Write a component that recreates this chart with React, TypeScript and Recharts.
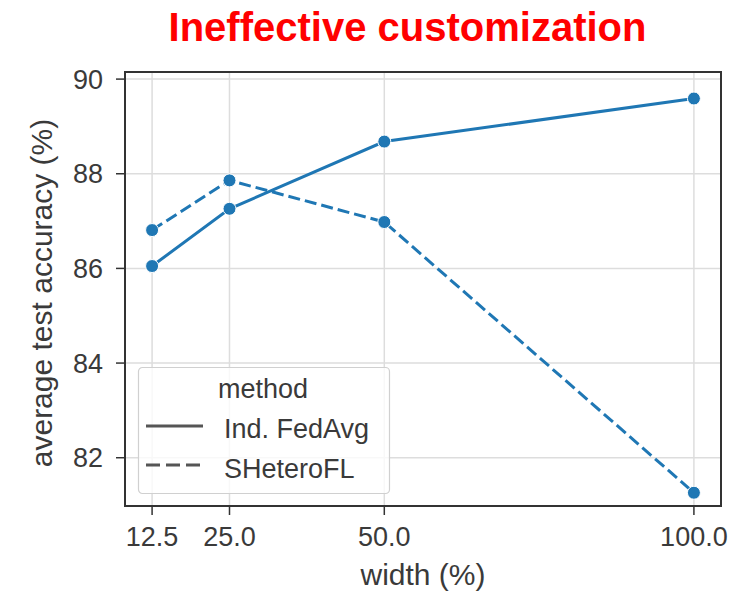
import React from "react";
import { LineChart, Line, XAxis, YAxis, CartesianGrid, Legend, ReferenceArea } from "recharts";

const widths = [12.5, 25, 50, 100];
const fedAvg = [86.05, 87.26, 88.68, 89.59];
const sHeteroFL = [86.81, 87.86, 86.98, 81.26];
const xTicks = [12.5, 25, 50, 100];
const yTicks = [82, 84, 86, 88, 90];
const seriesNames = ["Ind. FedAvg", "SHeteroFL"];
const xDomain = [8.125, 104.375];
const yDomain = [80.98, 90.15];

const data = widths.map((w, i) => ({ width: w, fedavg: fedAvg[i], sheterofl: sHeteroFL[i] }));

const FONT = "'Liberation Sans', Arial, sans-serif";
const BLUE = "#1f77b4";
const AXIS = "#333333";
const TXT = "#3a3a3a";

const renderLegend = () => (
  <svg width={252} height={127} style={{ display: "block", overflow: "visible" }}>
    <rect x={0.5} y={0.5} width={251} height={126} rx={4} ry={4} fill="rgba(255,255,255,0.8)" stroke="#d0d0d0" strokeWidth={1.2} />
    <text x={125} y={31} textAnchor="middle" fontSize={27} fill={TXT} fontFamily={FONT}>method</text>
    <line x1={8} x2={65} y1={59} y2={59} stroke="#555" strokeWidth={3} />
    <text x={86} y={71} fontSize={27} fill={TXT} fontFamily={FONT}>{seriesNames[0]}</text>
    <line x1={8} x2={65} y1={98} y2={98} stroke="#555" strokeWidth={3} strokeDasharray="14 6" />
    <text x={86} y={111} fontSize={27} fill={TXT} fontFamily={FONT}>{seriesNames[1]}</text>
  </svg>
);

const YLabel = (props: any) => {
  const vb = props.viewBox || { x: 0, y: 0, width: 0, height: 0 };
  const cx = vb.x + 52;
  const cy = vb.y + vb.height / 2 + 4;
  return (
    <text x={cx} y={cy} transform={`rotate(-90, ${cx}, ${cy})`} textAnchor="middle" fontSize={30} fill={TXT} fontFamily={FONT}>
      average test accuracy (%)
    </text>
  );
};

const XLabel = (props: any) => {
  const vb = props.viewBox || { x: 0, y: 0, width: 0, height: 0 };
  return (
    <text x={vb.x + vb.width / 2} y={vb.y + 79} textAnchor="middle" fontSize={30} fill={TXT} fontFamily={FONT}>
      width (%)
    </text>
  );
};

const Dot = (props: any) => {
  const { cx, cy } = props;
  if (cx == null || cy == null) return null;
  return <circle cx={cx} cy={cy} r={6.5} fill={BLUE} stroke="#ffffff" strokeWidth={1} />;
};

export default function App() {
  return (
    <div style={{ position: "absolute", left: 0, top: 0, width: 748, height: 591, background: "#fff", fontFamily: FONT }}>
      <div style={{ position: "absolute", left: 0, top: 0 }}>
        <LineChart width={748} height={591} data={data} margin={{ top: 72, right: 27, bottom: 0, left: 0 }} style={{ fontFamily: FONT }}>
          <CartesianGrid stroke="#dddddd" strokeWidth={1.5} />
          <XAxis
            dataKey="width"
            type="number"
            domain={xDomain}
            ticks={xTicks}
            allowDataOverflow
            height={85}
            tickSize={9}
            tickMargin={12}
            tickFormatter={(v: number) => v.toFixed(1)}
            tick={{ fill: TXT, fontSize: 27, fontFamily: FONT }}
            axisLine={{ stroke: AXIS, strokeWidth: 2 }}
            tickLine={{ stroke: AXIS, strokeWidth: 1.5 }}
            label={<XLabel />}
          />
          <YAxis
            type="number"
            domain={yDomain}
            ticks={yTicks}
            allowDataOverflow
            width={125}
            tickSize={9}
            tickMargin={13}
            tick={{ fill: TXT, fontSize: 27, fontFamily: FONT }}
            axisLine={{ stroke: AXIS, strokeWidth: 2 }}
            tickLine={{ stroke: AXIS, strokeWidth: 1.5 }}
            label={<YLabel />}
          />
          <ReferenceArea x1={xDomain[0]} x2={xDomain[1]} y1={yDomain[0]} y2={yDomain[1]} fill="none" fillOpacity={0} stroke={AXIS} strokeWidth={2} ifOverflow="visible" />
          <Legend layout="vertical" align="center" verticalAlign="middle" content={renderLegend} wrapperStyle={{ position: "absolute", left: 138, top: 367, width: 252, height: 127 }} />
          <Line dataKey="fedavg" name={seriesNames[0]} stroke={BLUE} strokeWidth={3} dot={<Dot />} activeDot={false} isAnimationActive={false} />
          <Line dataKey="sheterofl" name={seriesNames[1]} stroke={BLUE} strokeWidth={3} strokeDasharray="12 5" dot={<Dot />} activeDot={false} isAnimationActive={false} />
        </LineChart>
      </div>
      <div style={{ position: "absolute", left: 0, top: 0, width: 748, height: 72, textAlign: "center", pointerEvents: "none" }}>
        <svg width={748} height={72} style={{ display: "block" }}>
          <text x={407.5} y={41} textAnchor="middle" fontSize={40} fontWeight="bold" fill="#ff0000" fontFamily={FONT}>
            Ineffective customization
          </text>
        </svg>
      </div>
    </div>
  );
}
